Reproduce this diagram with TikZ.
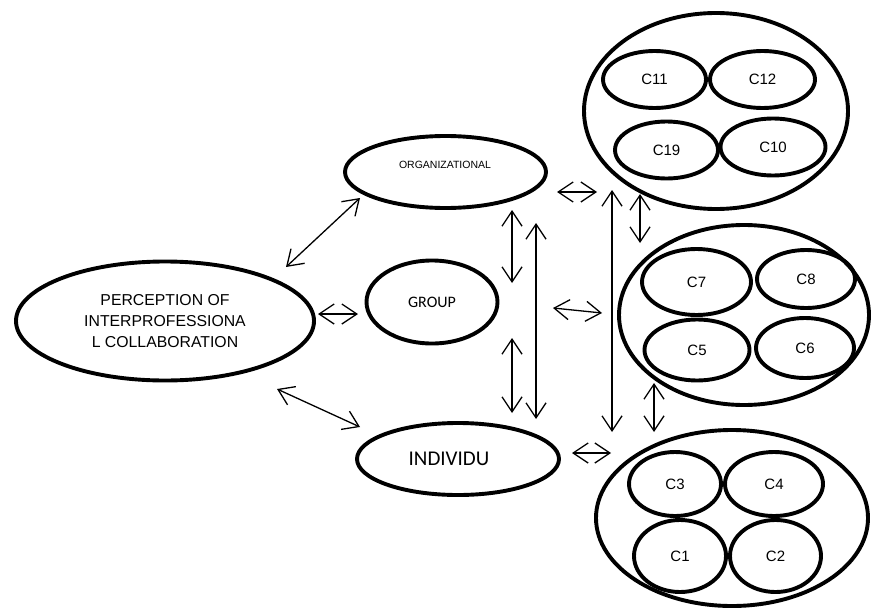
\documentclass[tikz,border=0pt]{standalone}
\usepackage{fontspec}
\setmainfont{Liberation Sans}
\newfontfamily\calib{Carlito}
\usetikzlibrary{shapes.geometric,arrows.meta}
\begin{document}
\begin{tikzpicture}[x=1pt,y=-1pt,
  ell/.style={ellipse, draw, line width=3.9pt, inner sep=0pt, align=center},
  cl/.style={ell, font=\fontsize{15}{17}\selectfont},
  arr/.style={{Straight Barb[length=15pt,width=20pt]}-{Straight Barb[length=15pt,width=20pt]}, line width=1.3pt}]
\useasboundingbox (0,0) rectangle (872,610);
% main ellipses
\node[ell, minimum width=298, minimum height=119, font=\fontsize{15.8}{20.7}\selectfont] (perc) at (165,321) {PERCEPTION OF\\INTERPROFESSIONA\\L COLLABORATION};
\node[ell, minimum width=201, minimum height=72] (org) at (445.5,172) {};
\node[font=\fontsize{10.5}{12}\selectfont] (orgt) at (445,165) {ORGANIZATIONAL};
\node[ell, minimum width=131, minimum height=83, font=\calib\fontsize{16}{18}\selectfont] (grp) at (432,302) {GROUP};
\node[ell, minimum width=202, minimum height=72] (ind) at (458,459) {};
\node[font=\calib\fontsize{21}{24}\selectfont] (indt) at (449,459) {INDIVIDU};
% top cluster
\node[ell, minimum width=264, minimum height=196] (top) at (716,111) {};
\node[cl, minimum width=103, minimum height=57] (c11) at (654.5,79.5) {C11};
\node[cl, minimum width=105, minimum height=57] (c12) at (762.5,79.5) {C12};
\node[cl, minimum width=103, minimum height=57] (c19) at (666.5,150) {C19};
\node[cl, minimum width=105, minimum height=57] (c10) at (773,147) {C10};
% middle cluster
\node[ell, minimum width=250, minimum height=180] (mid) at (744,315) {};
\node[cl, minimum width=109, minimum height=66] (c7) at (696.5,282) {C7};
\node[cl, minimum width=98, minimum height=58] (c8) at (806,279) {C8};
\node[cl, minimum width=105, minimum height=61] (c5) at (697,350) {C5};
\node[cl, minimum width=98, minimum height=60] (c6) at (805,348) {C6};
% bottom cluster
\node[ell, minimum width=272, minimum height=176] (bot) at (732,518) {};
\node[cl, minimum width=92, minimum height=64] (c3) at (675,484) {C3};
\node[cl, minimum width=98, minimum height=64] (c4) at (774,484) {C4};
\node[cl, minimum width=92, minimum height=72] (c1) at (680,556) {C1};
\node[cl, minimum width=91, minimum height=72] (c2) at (775.5,556) {C2};
% arrow end points
\coordinate (a1s) at (286,267); \coordinate (a1e) at (360,198);
\coordinate (a2s) at (318,314); \coordinate (a2e) at (358,314);
\coordinate (a3s) at (277,389); \coordinate (a3e) at (360,427);
\coordinate (a4s) at (512,210); \coordinate (a4e) at (512,283);
\coordinate (a5s) at (512,338); \coordinate (a5e) at (512,413);
\coordinate (a6s) at (536,223); \coordinate (a6e) at (536,419);
\coordinate (a7s) at (557,192); \coordinate (a7e) at (597,192);
\coordinate (a8s) at (612,190); \coordinate (a8e) at (612,432);
\coordinate (a9s) at (640,194); \coordinate (a9e) at (640,243);
\coordinate (a10s) at (553,308); \coordinate (a10e) at (602,313);
\coordinate (a11s) at (654,383); \coordinate (a11e) at (654,432);
\coordinate (a12s) at (572,453); \coordinate (a12e) at (611,453);
\foreach \i in {1,...,12} {\draw[arr] (a\i s) -- (a\i e);}
\end{tikzpicture}
\end{document}
